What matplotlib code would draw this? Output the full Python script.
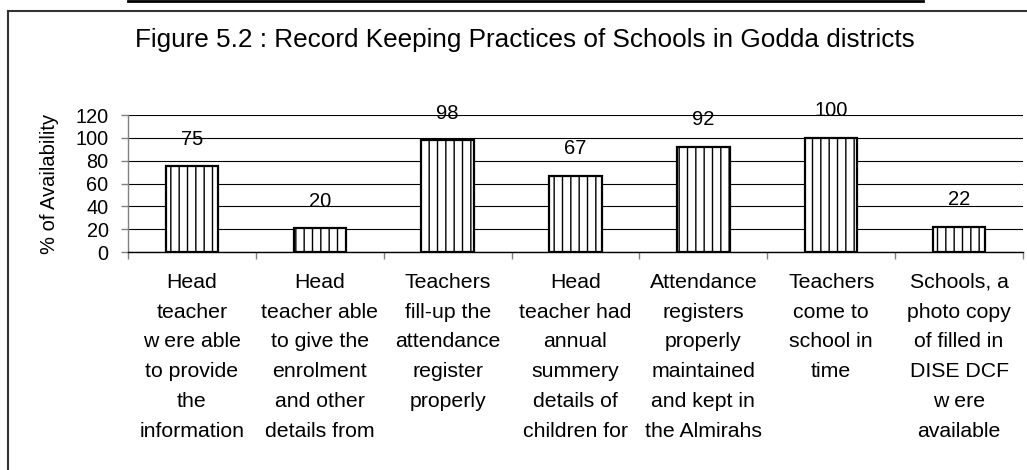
import matplotlib
matplotlib.use("Agg")
import matplotlib.pyplot as plt
from matplotlib.lines import Line2D
import numpy as np

categories = [
    "Head\nteacher\nw ere able\nto provide\nthe\ninformation",
    "Head\nteacher able\nto give the\nenrolment\nand other\ndetails from",
    "Teachers\nfill-up the\nattendance\nregister\nproperly",
    "Head\nteacher had\nannual\nsummery\ndetails of\nchildren for",
    "Attendance\nregisters\nproperly\nmaintained\nand kept in\nthe Almirahs",
    "Teachers\ncome to\nschool in\ntime",
    "Schools, a\nphoto copy\nof filled in\nDISE DCF\nw ere\navailable",
]
values = [75, 20.8, 98, 67, 92, 100, 22]
value_labels = ["75", "20", "98", "67", "92", "100", "22"]
yticks = [0, 20, 40, 60, 80, 100, 120]
title = "Figure 5.2 : Record Keeping Practices of Schools in Godda districts"
ylabel = "% of Availability"

plt.rcParams['font.family'] = ['Liberation Sans', 'DejaVu Sans']
plt.rcParams['hatch.linewidth'] = 1.0

W, H = 1027, 470
fig = plt.figure(figsize=(W / 100, H / 100), dpi=100)
fig.patch.set_facecolor("white")

ax = fig.add_axes([128 / W, 1 - 252 / H, (1023 - 128) / W, (252 - 115) / H])

x = np.arange(len(values))
ax.bar(x, values, width=0.41, color="white", edgecolor="black",
       linewidth=1.6, hatch="||", zorder=3)

for xi, v, lab in zip(x, values, value_labels):
    ax.annotate(lab, (xi, v), xytext=(0, 19.5), textcoords="offset points",
                ha="center", va="center", fontsize=14.5, zorder=4)

ax.set_xlim(-0.5, len(values) - 0.5)
ax.set_ylim(0, 120)
ax.set_yticks(yticks)
ax.set_yticklabels([str(t) for t in yticks], fontsize=14.3)
ax.yaxis.grid(True, color="black", linewidth=0.8, zorder=0)
ax.set_axisbelow(True)

ax.set_xticks(x)
ax.set_xticklabels(categories, fontsize=15.3, linespacing=1.72)
ax.set_xticks(np.arange(len(values) + 1) - 0.5, minor=True)
ax.tick_params(axis="x", which="major", length=0, pad=15)
ax.tick_params(axis="x", which="minor", length=5, color="gray", width=1)
ax.tick_params(axis="y", length=5, color="gray", width=1, pad=9)

for s in ["top", "right"]:
    ax.spines[s].set_visible(False)
ax.spines["left"].set_color("gray")
ax.spines["left"].set_linewidth(1)
ax.spines["bottom"].set_color("black")
ax.spines["bottom"].set_linewidth(1)

ax.set_ylabel(ylabel, fontsize=14.5, labelpad=12)

fig.text(525 / W, 1 - 40 / H, title, ha="center", va="center", fontsize=18.8)

# Frame lines
fig.add_artist(Line2D([8 / W, 8 / W], [0, 1 - 11 / H], color="#333333", linewidth=1.5))
fig.add_artist(Line2D([8 / W, 1], [1 - 11 / H, 1 - 11 / H], color="#333333", linewidth=1.5))
fig.add_artist(Line2D([128 / W, 923 / W], [1 - 1 / H, 1 - 1 / H], color="black", linewidth=2))

fig.savefig("out.png", dpi=100, facecolor="white")
